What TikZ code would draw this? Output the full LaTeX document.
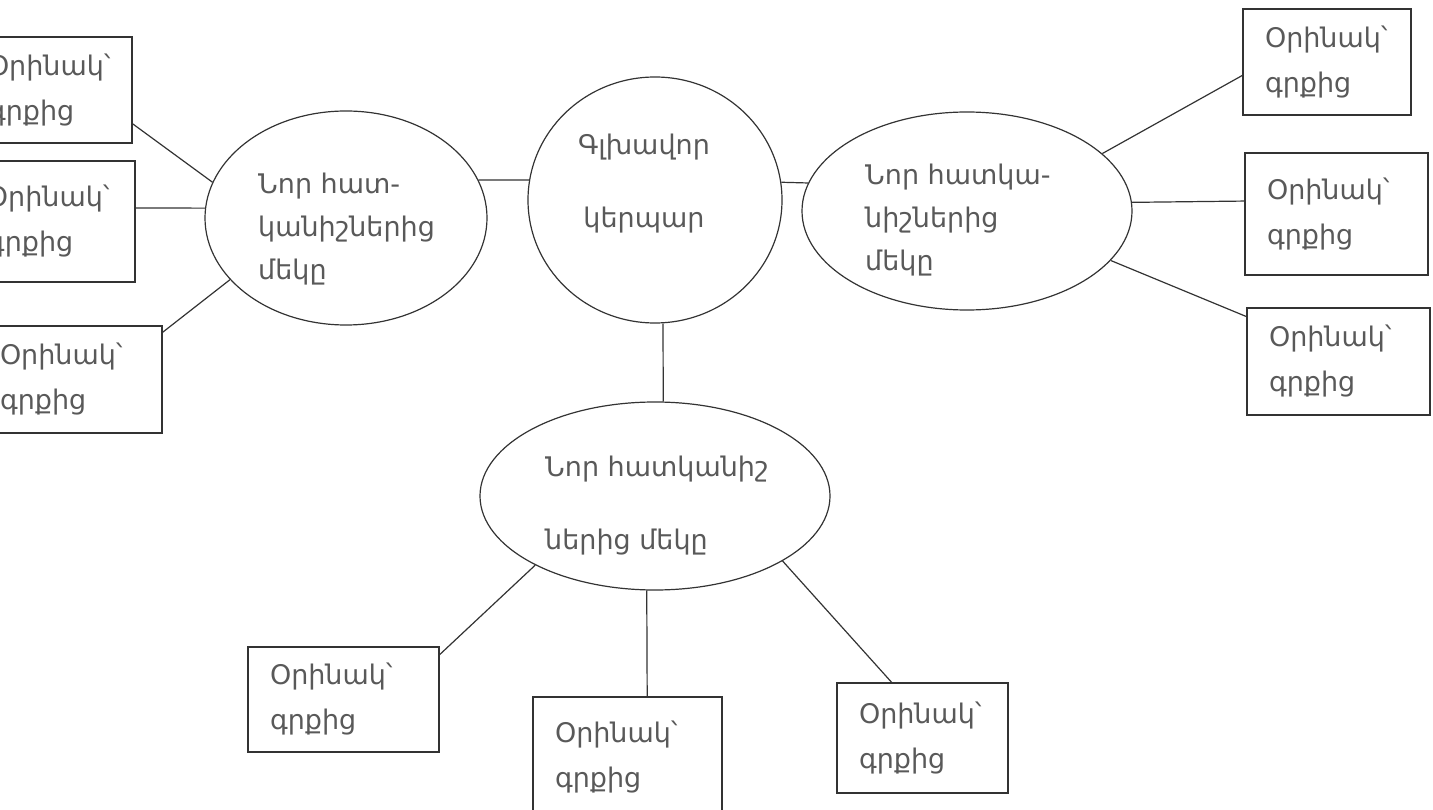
\documentclass[tikz,border=0pt]{standalone}
\usepackage{fontspec}
\setmainfont{DejaVu Sans}
\usetikzlibrary{shapes.geometric}
\newcommand{\boxfont}{\fontsize{27}{45}\selectfont}
\newcommand{\ovalfont}{\fontsize{27}{43}\selectfont}
\newcommand{\widefont}{\fontsize{27}{73}\selectfont}
\tikzstyle{ex} = [rectangle, draw=black!80, line width=1.2pt, text=black!65, font=\boxfont, align=left, inner xsep=22pt, inner ysep=0pt]
\tikzstyle{trait} = [ellipse, draw=black!80, line width=1.2pt, inner sep=0pt]
\tikzstyle{word} = [text=black!65, font=\ovalfont, align=left, anchor=west, inner sep=0pt]
\tikzstyle{link} = [draw=black!80, line width=1.2pt]

\begin{document}
\begin{tikzpicture}[x=1pt, y=-1pt]
\clip (0,0) rectangle (1433,810);
\node (main) [trait, minimum width=254pt, minimum height=246pt] at (655,200) {};
\node (tl) [trait, minimum width=282pt, minimum height=214pt] at (346,218) {};
\node (tr) [trait, minimum width=330pt, minimum height=198pt] at (967,211) {};
\node (tb) [trait, minimum width=350pt, minimum height=188pt] at (655,496) {};
\node (mainW) [word, font=\widefont, align=center, anchor=center] at (644,184) {Գլխավոր\\կերպար};
\node (tlW) [word] at (258,229.5) {Նոր հատ-\\կանիշներից\\մեկը};
\node (trW) [word] at (865,220) {Նոր հատկա-\\նիշներից\\մեկը};
\node (tbW) [word, font=\widefont] at (545,506) {Նոր հատկանիշ\\ներից մեկը};

\node (l1) [ex, text width=122pt, minimum height=106pt] at (49,90) {Օրինակ՝\\գրքից};
\node (l2) [ex, text width=126pt, minimum height=121pt] at (50,221.5) {Օրինակ՝\\գրքից};
\node (l3) [ex, text width=140pt, minimum height=107pt] at (70,379.5) {Օրինակ՝\\գրքից};
\node (r1) [ex, text width=124pt, minimum height=106pt] at (1327,62) {Օրինակ՝\\գրքից};
\node (r2) [ex, text width=139pt, minimum height=122pt] at (1336.5,214) {Օրինակ՝\\գրքից};
\node (r3) [ex, text width=139pt, minimum height=107pt] at (1338.5,361.5) {Օրինակ՝\\գրքից};
\node (b1) [ex, text width=147pt, minimum height=105pt] at (343.5,699.5) {Օրինակ՝\\գրքից};
\node (b2) [ex, text width=145pt, minimum height=120pt] at (627.5,757) {Օրինակ՝\\գրքից};
\node (b3) [ex, text width=127pt, minimum height=110pt] at (922.5,738) {Օրինակ՝\\գրքից};

\draw [link] (tl.16) -- (main.171);
\draw [link] (main.8) -- (tr.170);
\draw [link] (main.south) ++(8,0) -- (tb.85);
\draw [link] (l1.-22) -- (tl.165);
\draw [link] (l2.9) -- (tl.176);
\draw [link] (l3.27) -- (tl.208);
\draw [link] (tr.23) -- (r1.189);
\draw [link] (tr.3) -- (r2.172);
\draw [link] (tr.-19) -- (r3.154);
\draw [link] (tb.210) -- (b1.25);
\draw [link] (tb.265) -- (b2.72);
\draw [link] (tb.333) -- (b3.119);
\end{tikzpicture}
\end{document}
